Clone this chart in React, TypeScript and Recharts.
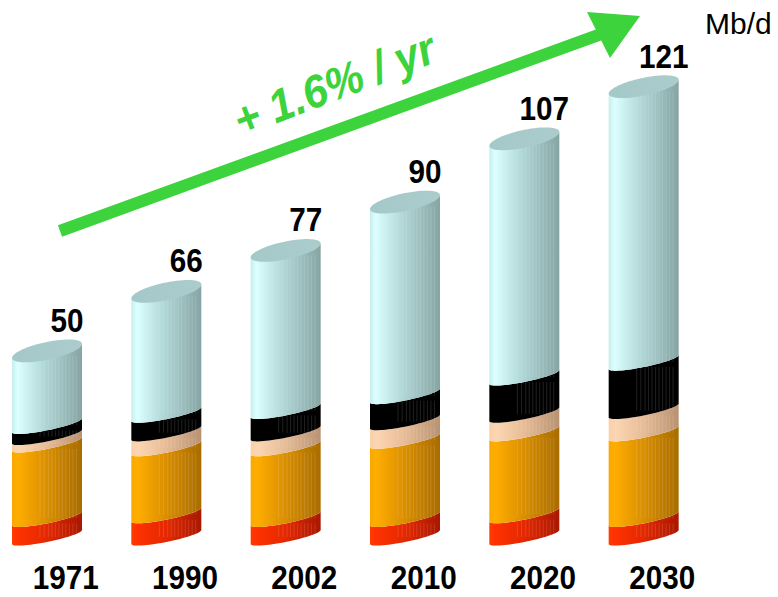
import { BarChart, Bar, XAxis, YAxis, LabelList, Customized } from 'recharts'

// world oil demand by sector, Mb/d
const years = ['1971', '1990', '2002', '2010', '2020', '2030']
const redPart = [5, 6, 5, 5, 6, 5]
const orangePart = [20, 18, 19, 21, 22, 23]
const peachPart = [2, 4, 4, 5, 5, 6]
const blackPart = [3, 5, 6, 7, 10, 13]
const cyanPart = [20, 33, 43, 52, 64, 74]
const totals = [50, 66, 77, 90, 107, 121]
const growthLabel = '+ 1.6% / yr'
const unitLabel = 'Mb/d'

const data = years.map((year, i) => ({
  year,
  red: redPart[i],
  orange: orangePart[i],
  peach: peachPart[i],
  black: blackPart[i],
  cyan: cyanPart[i],
  total: totals[i],
}))

const SHIFT = 13 // chart is pulled left so the first cylinder sits near the edge
const B = 5 // sag of the segment edges
const CAP_B = 9 // half height of the top cap
const TILT = 7 // ellipse tilt, right side higher
const FONT = 'Arial, "Liberation Sans", sans-serif'
const STRIPES = [0.4, 0.46, 0.52, 0.57, 0.62, 0.67, 0.72, 0.77, 0.82, 0.87, 0.92]

function cylinder(gradId: string, withCap = false) {
  return (props: any) => {
    const { x, y, width, height } = props
    if (!width || height == null) return null
    const a = width / 2
    const cx = x + a
    const pt = (t: number, yy: number, b = B) =>
      `${(cx + a * Math.cos(t)).toFixed(2)},${(yy + b * Math.sin(t) - TILT * Math.cos(t)).toFixed(2)}`
    const N = 32
    let d = ''
    for (let i = 0; i <= N; i++) d += (i === 0 ? 'M' : 'L') + pt(Math.PI - (Math.PI * i) / N, y)
    for (let i = 0; i <= N; i++) d += 'L' + pt((Math.PI * i) / N, y + height)
    d += 'Z'
    let cap = ''
    if (withCap) {
      for (let i = 0; i <= 2 * N; i++) cap += (i === 0 ? 'M' : 'L') + pt((Math.PI * i) / N, y, CAP_B)
      cap += 'Z'
    }
    return (
      <g>
        <path d={d} fill={`url(#${gradId})`} />
        {STRIPES.map((f) => (
          <line
            key={f}
            x1={x + f * width}
            x2={x + f * width}
            y1={y + B}
            y2={y + height}
            stroke="#ffffff"
            strokeOpacity={0.13}
            strokeWidth={1}
          />
        ))}
        {withCap && <path d={cap} fill="url(#capGrad)" />}
      </g>
    )
  }
}

function TotalLabel(props: any) {
  const { x, y, width, value } = props
  const s = String(value)
  return (
    <text
      x={x + width / 2 + 20}
      y={y - 19}
      textAnchor="middle"
      fontFamily={FONT}
      fontWeight="bold"
      fontSize={33}
      fill="#000"
      textLength={s.length * 16.5}
      lengthAdjust="spacingAndGlyphs"
    >
      {s}
    </text>
  )
}

function YearTick(props: any) {
  const { x, payload } = props
  return (
    <text
      x={x + 19}
      y={589}
      textAnchor="middle"
      fontFamily={FONT}
      fontWeight="bold"
      fontSize={33}
      fill="#000"
      textLength={66}
      lengthAdjust="spacingAndGlyphs"
    >
      {payload.value}
    </text>
  )
}

function Decorations() {
  const sx = (v: number) => v + SHIFT
  return (
    <g>
      <line x1={sx(60)} y1={231} x2={sx(604)} y2={33} stroke="#3cd33c" strokeWidth={12} />
      <polygon points={`${sx(587)},12 ${sx(640)},16 ${sx(610)},58`} fill="#3cd33c" />
      <text
        x={sx(340)}
        y={99}
        textAnchor="middle"
        fontFamily={FONT}
        fontWeight="bold"
        fontStyle="italic"
        fontSize={46}
        fill="#3cd33c"
        textLength={212}
        lengthAdjust="spacingAndGlyphs"
        transform={`rotate(-21 ${sx(340)} 99)`}
      >
        {growthLabel}
      </text>
      <text x={sx(705)} y={34} fontFamily={FONT} fontSize={30} fill="#000">
        {unitLabel}
      </text>
    </g>
  )
}

export default function App() {
  return (
    <div style={{ position: 'absolute', left: -SHIFT, top: 0, width: 791, height: 597 }}>
      <BarChart
        width={791}
        height={597}
        data={data}
        margin={{ top: 16, right: 75, left: 0, bottom: 0 }}
        barSize={70}
      >
        <defs>
          <linearGradient id="cyanGrad" x1="0" y1="0" x2="1" y2="0">
            <stop offset="0%" stopColor="#c6eeee" />
            <stop offset="8%" stopColor="#dcffff" />
            <stop offset="45%" stopColor="#b2d8d8" />
            <stop offset="100%" stopColor="#86a4a4" />
          </linearGradient>
          <linearGradient id="capGrad" x1="0" y1="0" x2="1" y2="0">
            <stop offset="0%" stopColor="#a4c8c8" />
            <stop offset="100%" stopColor="#accccc" />
          </linearGradient>
          <linearGradient id="orangeGrad" x1="0" y1="0" x2="1" y2="0">
            <stop offset="0%" stopColor="#f8a800" />
            <stop offset="8%" stopColor="#ffae00" />
            <stop offset="45%" stopColor="#de9200" />
            <stop offset="100%" stopColor="#a86c00" />
          </linearGradient>
          <linearGradient id="redGrad" x1="0" y1="0" x2="1" y2="0">
            <stop offset="0%" stopColor="#ff3a00" />
            <stop offset="8%" stopColor="#ff3200" />
            <stop offset="50%" stopColor="#e42800" />
            <stop offset="100%" stopColor="#a81800" />
          </linearGradient>
          <linearGradient id="peachGrad" x1="0" y1="0" x2="1" y2="0">
            <stop offset="0%" stopColor="#f8d0a8" />
            <stop offset="10%" stopColor="#fcd6b2" />
            <stop offset="50%" stopColor="#e6bc96" />
            <stop offset="100%" stopColor="#b89272" />
          </linearGradient>
          <linearGradient id="blackGrad" x1="0" y1="0" x2="1" y2="0">
            <stop offset="0%" stopColor="#000" />
            <stop offset="100%" stopColor="#000" />
          </linearGradient>
        </defs>
        <XAxis
          dataKey="year"
          height={60}
          axisLine={false}
          tickLine={false}
          interval={0}
          tick={<YearTick />}
        />
        <YAxis hide domain={[0, 140]} />
        <Bar dataKey="red" stackId="a" shape={cylinder('redGrad')} isAnimationActive={false} />
        <Bar dataKey="orange" stackId="a" shape={cylinder('orangeGrad')} isAnimationActive={false} />
        <Bar dataKey="peach" stackId="a" shape={cylinder('peachGrad')} isAnimationActive={false} />
        <Bar dataKey="black" stackId="a" shape={cylinder('blackGrad')} isAnimationActive={false} />
        <Bar dataKey="cyan" stackId="a" shape={cylinder('cyanGrad', true)} isAnimationActive={false}>
          <LabelList dataKey="total" content={<TotalLabel />} />
        </Bar>
        <Customized component={<Decorations />} />
      </BarChart>
    </div>
  )
}
